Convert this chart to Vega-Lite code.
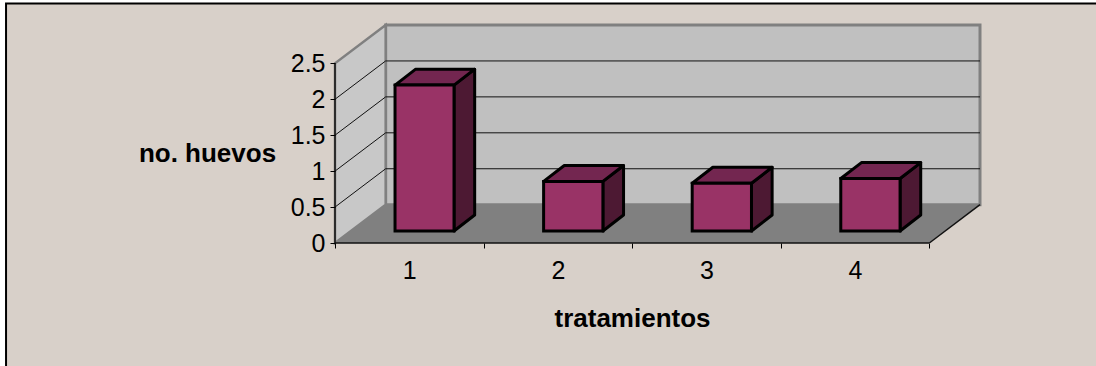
{
  "$schema": "https://vega.github.io/schema/vega-lite/v6.json",
  "width": 645,
  "height": 218,
  "autosize": "none",
  "padding": {"left": 335, "top": 25, "right": 116, "bottom": 123},
  "background": "#ffffff",
  "config": {"view": {"stroke": null}, "font": "Liberation Sans"},
  "encoding": {
    "x": {
      "field": "x", "type": "quantitative", "stack": false,
      "scale": {"domain": [0, 4.341], "nice": false, "zero": false},
      "axis": {
        "title": "tratamientos", "titleFont": "Liberation Sans", "titleFontSize": 26, "titleFontWeight": "bold", "titleColor": "#000000",
        "titleX": 297, "titleY": 83, "titleBaseline": "alphabetic",
        "values": [0, 0.5, 1, 1.5, 2, 2.5, 3, 3.5, 4],
        "labelExpr": "datum.value % 1 ? ceil(datum.value) : ''",
        "labelFont": "Liberation Sans", "labelFontSize": 25, "labelColor": "#000000", "labelPadding": 10, "labelOverlap": false, "labelBound": false, "labelFlush": false,
        "domain": false, "grid": false, "tickColor": "#000000", "tickSize": 5, "tickWidth": 1,
        "tickOpacity": {"condition": {"test": "datum.value % 1 != 0", "value": 0}, "value": 1},
        "zindex": 1
      }
    },
    "y": {
      "field": "y", "type": "quantitative", "stack": false,
      "scale": {"domain": [0, 3.033], "nice": false, "zero": false},
      "axis": {
        "title": "no. huevos", "titleFont": "Liberation Sans", "titleFontSize": 26, "titleFontWeight": "bold", "titleColor": "#000000",
        "titleAngle": 0, "titleAlign": "center", "titleBaseline": "alphabetic", "titleX": -128, "titleY": 136.5,
        "values": [0, 0.5, 1, 1.5, 2, 2.5],
        "format": ".2~f",
        "labelFont": "Liberation Sans", "labelFontSize": 25, "labelColor": "#000000", "labelPadding": 5, "labelOverlap": false, "labelBound": false, "labelFlush": false,
        "domain": false, "grid": false, "tickColor": "#000000", "tickSize": 5, "tickWidth": 1,
        "zindex": 1
      }
    }
  },
  "layer": [
    {
      "description": "chart area with its dark border",
      "data": {"values": [{"x": -2.214, "x2": 5.2, "y": -1.85, "y2": 3.331}]},
      "mark": {"type": "rect", "fill": "#d8d0c9", "stroke": "#000000", "strokeWidth": 2, "clip": false},
      "encoding": {"x2": {"field": "x2"}, "y2": {"field": "y2"}}
    },
    {
      "description": "back wall",
      "data": {"values": [{"x": 0.341, "x2": 4.341, "y": 0.533, "y2": 3.033}]},
      "mark": {"type": "rect", "fill": "#c0c0c0", "stroke": "#808080", "strokeWidth": 3},
      "encoding": {"x2": {"field": "x2"}, "y2": {"field": "y2"}}
    },
    {
      "description": "side wall",
      "data": {"values": [{"x": 0, "y": 0, "y2": 2.5}, {"x": 0.341, "y": 0.533, "y2": 3.033}]},
      "mark": {"type": "area", "orient": "vertical", "fill": "#c8c8c8", "stroke": "#808080", "strokeWidth": 2.5},
      "encoding": {"y2": {"field": "y2"}}
    },
    {
      "description": "floor",
      "data": {"values": [{"y": 0, "x": 0, "x2": 4}, {"y": 0.533, "x": 0.341, "x2": 4.341}]},
      "mark": {"type": "area", "orient": "horizontal", "fill": "#808080"},
      "encoding": {"x2": {"field": "x2"}}
    },
    {
      "description": "gridlines running along the side wall and across the back wall",
      "data": {"values": [
        {"level": 0.5, "x": 0, "y": 0.5}, {"level": 0.5, "x": 0.341, "y": 1.033}, {"level": 0.5, "x": 4.341, "y": 1.033},
        {"level": 1, "x": 0, "y": 1}, {"level": 1, "x": 0.341, "y": 1.533}, {"level": 1, "x": 4.341, "y": 1.533},
        {"level": 1.5, "x": 0, "y": 1.5}, {"level": 1.5, "x": 0.341, "y": 2.033}, {"level": 1.5, "x": 4.341, "y": 2.033},
        {"level": 2, "x": 0, "y": 2}, {"level": 2, "x": 0.341, "y": 2.533}, {"level": 2, "x": 4.341, "y": 2.533}
      ]},
      "mark": {"type": "line", "stroke": "#111111", "strokeWidth": 1},
      "encoding": {"detail": {"field": "level"}}
    },
    {
      "description": "front axis lines and the right edge of the floor",
      "data": {"values": [
        {"edge": "value", "x": 0, "y": 0}, {"edge": "value", "x": 0, "y": 2.5},
        {"edge": "category", "x": 0, "y": 0}, {"edge": "category", "x": 4, "y": 0},
        {"edge": "floor", "x": 4, "y": 0}, {"edge": "floor", "x": 4.341, "y": 0.533}
      ]},
      "mark": {"type": "line", "stroke": "#111111", "strokeWidth": 1.5},
      "encoding": {"detail": {"field": "edge"}}
    },
    {
      "description": "bar side faces",
      "data": {"values": [
        {"bar": 1, "x": 0.801, "y": 0.167, "y2": 2.197}, {"bar": 1, "x": 0.94, "y": 0.389, "y2": 2.419},
        {"bar": 2, "x": 1.803, "y": 0.167, "y2": 0.857}, {"bar": 2, "x": 1.942, "y": 0.389, "y2": 1.079},
        {"bar": 3, "x": 2.803, "y": 0.167, "y2": 0.832}, {"bar": 3, "x": 2.942, "y": 0.389, "y2": 1.054},
        {"bar": 4, "x": 3.803, "y": 0.167, "y2": 0.897}, {"bar": 4, "x": 3.942, "y": 0.389, "y2": 1.119}
      ]},
      "mark": {"type": "area", "orient": "vertical", "fill": "#4d1933", "stroke": "#000000", "strokeWidth": 3, "strokeJoin": "round"},
      "encoding": {"y2": {"field": "y2"}, "detail": {"field": "bar"}}
    },
    {
      "description": "bar top faces",
      "data": {"values": [
        {"bar": 1, "y": 2.197, "x": 0.404, "x2": 0.801}, {"bar": 1, "y": 2.419, "x": 0.543, "x2": 0.94},
        {"bar": 2, "y": 0.857, "x": 1.404, "x2": 1.803}, {"bar": 2, "y": 1.079, "x": 1.543, "x2": 1.942},
        {"bar": 3, "y": 0.832, "x": 2.404, "x2": 2.803}, {"bar": 3, "y": 1.054, "x": 2.543, "x2": 2.942},
        {"bar": 4, "y": 0.897, "x": 3.404, "x2": 3.803}, {"bar": 4, "y": 1.119, "x": 3.543, "x2": 3.942}
      ]},
      "mark": {"type": "area", "orient": "horizontal", "fill": "#732650", "stroke": "#000000", "strokeWidth": 3, "strokeJoin": "round"},
      "encoding": {"x2": {"field": "x2"}, "detail": {"field": "bar"}}
    },
    {
      "description": "bar front faces",
      "data": {"values": [
        {"bar": 1, "x": 0.404, "x2": 0.801, "y": 0.167, "y2": 2.197},
        {"bar": 2, "x": 1.404, "x2": 1.803, "y": 0.167, "y2": 0.857},
        {"bar": 3, "x": 2.404, "x2": 2.803, "y": 0.167, "y2": 0.832},
        {"bar": 4, "x": 3.404, "x2": 3.803, "y": 0.167, "y2": 0.897}
      ]},
      "mark": {"type": "rect", "fill": "#993366", "stroke": "#000000", "strokeWidth": 3},
      "encoding": {"x2": {"field": "x2"}, "y2": {"field": "y2"}}
    }
  ]
}
